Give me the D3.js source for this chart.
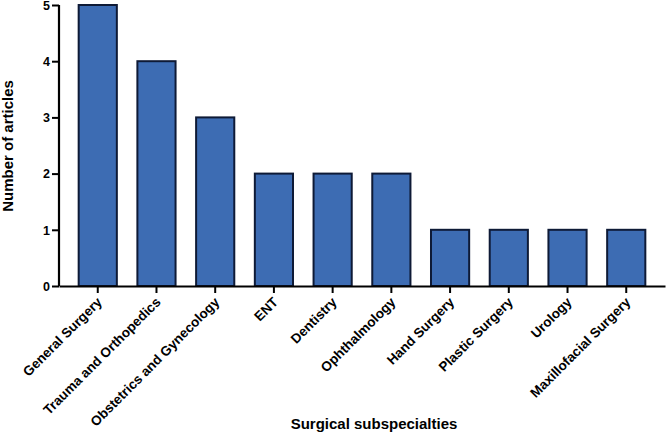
<!DOCTYPE html>
<html><head><meta charset="utf-8">
<script src="https://cdn.jsdelivr.net/npm/d3@7"></script>
<style>body{margin:0;background:#fff}svg{display:block}text{font-family:"Liberation Sans",Arial,sans-serif;font-weight:bold;fill:#000}</style>
</head><body>
<svg id="c" width="666" height="435"></svg>
<script>
const categories = ["General Surgery","Trauma and Orthopedics","Obstetrics and Gynecology","ENT","Dentistry","Ophthalmology","Hand Surgery","Plastic Surgery","Urology","Maxillofacial Surgery"];
const values = [5,4,3,2,2,2,1,1,1,1];
const yTicks = [0,1,2,3,4,5];

const svg = d3.select("#c");
const x0 = 59, x1 = 665, yTop = 5, yBot = 286;
const x = d3.scaleBand().domain(categories).range([x0, x1]).paddingInner(0.35).paddingOuter(0.335);
const y = d3.scaleLinear().domain([0,5]).range([yBot, yTop]);

svg.selectAll("rect.bar").data(values).join("rect")
  .attr("class","bar")
  .attr("x",(d,i)=>x(categories[i]))
  .attr("width",x.bandwidth())
  .attr("y",d=>y(d))
  .attr("height",d=>y(0)-y(d))
  .attr("fill","#3d6cb3")
  .attr("stroke","#0e1a36")
  .attr("stroke-width",2);

// y axis
const ya = svg.append("g").attr("transform",`translate(${x0},0)`)
  .call(d3.axisLeft(y).tickValues(yTicks).tickSize(7).tickFormat(d3.format("d")));
ya.select(".domain").attr("stroke","#000").attr("stroke-width",2.2).attr("d",`M0,${yBot}V${yTop}`);
ya.selectAll(".tick line").attr("stroke","#000").attr("stroke-width",2);
ya.selectAll(".tick text").attr("font-size",12.5).attr("x",-9).attr("dy","0.34em")
  .attr("font-family",'"Liberation Sans",Arial,sans-serif').attr("font-weight","bold");

// x axis
const xa = svg.append("g").attr("transform",`translate(0,${yBot})`)
  .call(d3.axisBottom(x).tickSize(7).tickSizeOuter(0));
xa.select(".domain").attr("stroke","#000").attr("stroke-width",2.2);
xa.selectAll(".tick line").attr("stroke","#000").attr("stroke-width",2);
xa.selectAll(".tick text")
  .attr("font-size",13.5)
  .attr("font-family",'"Liberation Sans",Arial,sans-serif').attr("font-weight","bold")
  .attr("text-anchor","end")
  .attr("dy",0)
  .attr("y",0)
  .attr("transform","translate(5,17) rotate(-45)");

svg.append("text").attr("x",374).attr("y",429).attr("text-anchor","middle").attr("font-size",15).text("Surgical subspecialties");
svg.append("text").attr("transform","translate(13,146) rotate(-90)").attr("text-anchor","middle").attr("font-size",15).text("Number of articles");
</script>
</body></html>
